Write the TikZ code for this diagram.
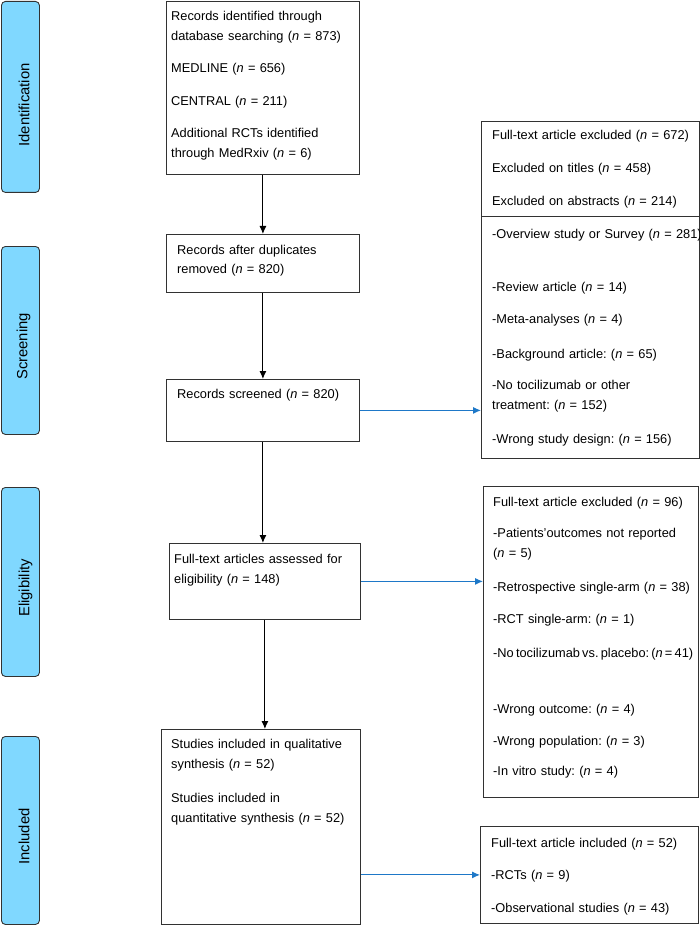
\documentclass[tikz,border=0pt]{standalone}
\usepackage{fontspec}
\setmainfont{Liberation Sans}
\usetikzlibrary{arrows.meta,positioning}
\definecolor{barblue}{RGB}{128,216,255}
\definecolor{linkblue}{RGB}{30,120,200}
\definecolor{edgegrey}{RGB}{50,50,50}
\frenchspacing

\begin{document}
\begin{tikzpicture}[x=1pt, y=-1pt,
  every node/.style={font=\fontsize{12.8pt}{20pt}\selectfont},
  stage/.style={draw=edgegrey, line width=0.9pt, fill=barblue, rounded corners=4pt, minimum width=38pt, anchor=north west, inner sep=0pt},
  stagelabel/.style={rotate=90, anchor=base, inner sep=0pt, font=\fontsize{14.8pt}{18pt}\selectfont},
  box/.style={draw=edgegrey, line width=0.8pt, anchor=north west, inner sep=0pt},
  txt/.style={anchor=base west, inner sep=0pt, align=left, text width=250pt},
  flow/.style={-{Latex[length=8pt,width=7pt]}, line width=1pt, black},
  side/.style={-{Latex[length=8pt,width=7pt]}, line width=1pt, linkblue}]

\useasboundingbox (0,0) rectangle (700,925);

% stages
\node[stage, minimum height=191pt] (idbar) at (1,1) {};
\node[stage, minimum height=188pt] (scrbar) at (1,246) {};
\node[stage, minimum height=189pt] (eligbar) at (1,487) {};
\node[stage, minimum height=188pt] (inclbar) at (1,736) {};
\node[stagelabel] (idlab) at ([xshift=9pt,yshift=-8pt]idbar.center) {Identification};
\node[stagelabel] (scrlab) at ([xshift=7pt,yshift=-6pt]scrbar.center) {Screening};
\node[stagelabel] (eliglab) at ([xshift=9pt,yshift=-6pt]eligbar.center) {Eligibility};
\node[stagelabel] (incllab) at ([xshift=9pt,yshift=-6pt]inclbar.center) {Included};

% main column
\node[box, minimum width=193pt, minimum height=173pt] (ident) at (166,1) {};
\node[txt] (identtxt) at ([shift={(5,19.5)}]ident.north west)
  {Records identified through\\ database searching (\textit{n} = 873)\\[12.5pt]
   MEDLINE (\textit{n} = 656)\\[12.5pt] CENTRAL (\textit{n} = 211)\\[12.5pt]
   Additional RCTs identified\\ through MedRxiv (\textit{n} = 6)};

\node[box, minimum width=193pt, minimum height=58pt] (dupl) at (166,234) {};
\node[txt] (dupltxt) at ([shift={(11,20)}]dupl.north west)
  {Records after duplicates\\ removed (\textit{n} = 820)};

\node[box, minimum width=193pt, minimum height=62pt] (screen) at (166,379) {};
\node[txt] (screentxt) at ([shift={(11,19)}]screen.north west)
  {Records screened (\textit{n} = 820)};

\node[box, minimum width=191pt, minimum height=76pt] (elig) at (169,543) {};
\node[txt] (eligtxt) at ([shift={(5,20)}]elig.north west)
  {Full-text articles assessed for\\ eligibility (\textit{n} = 148)};

\node[box, minimum width=199pt, minimum height=195pt] (incl) at (161,729) {};
\node[txt] (incltxt) at ([shift={(10,19)}]incl.north west)
  {Studies included in qualitative\\ synthesis (\textit{n} = 52)\\[14pt]
   Studies included in\\ quantitative synthesis (\textit{n} = 52)};

% side column
\node[box, minimum width=218pt, minimum height=337pt] (excl1) at (481,121) {};
\coordinate (cut) at (481,216);
\draw[edgegrey, line width=0.8pt] (cut) -- (cut -| excl1.east);
\node[txt] (excl1txt) at ([shift={(11,19)}]excl1.north west)
  {Full-text article excluded (\textit{n} = 672)\\[13pt]
   Excluded on titles (\textit{n} = 458)\\[13pt]
   Excluded on abstracts (\textit{n} = 214)\\[13pt]
   -Overview study or Survey (\textit{n} = 281)\\[33pt]
   -Review article (\textit{n} = 14)\\[12pt]
   -Meta-analyses (\textit{n} = 4)\\[14pt]
   -Background article: (\textit{n} = 65)\\[12pt]
   -No tocilizumab or other\\ treatment: (\textit{n} = 152)\\[14pt]
   -Wrong study design: (\textit{n} = 156)};

\node[box, minimum width=215pt, minimum height=311pt] (excl2) at (483,486) {};
\node[txt] (excl2txt) at ([shift={(10,20)}]excl2.north west)
  {Full-text article excluded (\textit{n} = 96)\\[11pt]
   -Patients’outcomes not reported\\ (\textit{n} = 5)\\[14pt]
   -Retrospective single-arm (\textit{n} = 38)\\[12pt]
   -RCT single-arm: (\textit{n} = 1)\\[14pt]
   {\spaceskip=2.2pt -No tocilizumab vs. placebo: (\textit{n} = 41)}\\[36pt]
   -Wrong outcome: (\textit{n} = 4)\\[12pt]
   -Wrong population: (\textit{n} = 3)\\[10pt]
   -In vitro study: (\textit{n} = 4)};

\node[box, minimum width=218pt, minimum height=97pt] (inclR) at (480,826) {};
\node[txt] (inclRtxt) at ([shift={(11,21)}]inclR.north west)
  {Full-text article included (\textit{n} = 52)\\[12pt]
   -RCTs (\textit{n} = 9)\\[13pt]
   -Observational studies (\textit{n} = 43)};

% arrows
\draw[flow] (ident.south) -- (dupl.north);
\draw[flow] (dupl.south) -- (screen.north);
\draw[flow] (screen.south) -- (screen.south |- elig.north);
\draw[flow] (elig.south) -- (elig.south |- incl.north);
\draw[side] (screen.east) -- (screen.east -| excl1.west);
\draw[side] (elig.east) -- (elig.east -| excl2.west);
\draw[side] (inclR.west -| incl.east) -- (inclR.west);

\end{tikzpicture}
\end{document}
